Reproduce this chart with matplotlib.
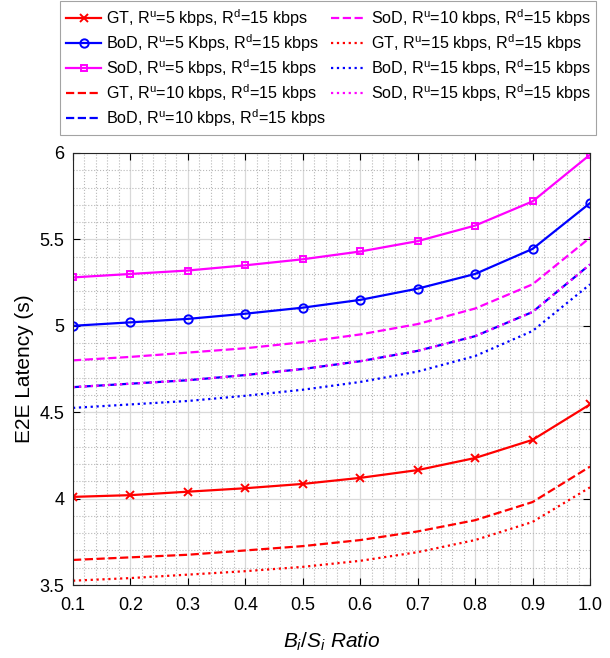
import numpy as np
import matplotlib
matplotlib.use("Agg")
import matplotlib.pyplot as plt
from matplotlib.ticker import MultipleLocator, FuncFormatter

plt.rcParams['font.family'] = ['Liberation Sans', 'DejaVu Sans']
plt.rcParams['mathtext.fontset'] = 'custom'
plt.rcParams['mathtext.rm'] = 'Liberation Sans'
plt.rcParams['mathtext.it'] = 'Liberation Sans:italic'

# Datos
ratio = [0.1, 0.2, 0.3, 0.4, 0.5, 0.6, 0.7, 0.8, 0.9, 1.0]

gt_5 = [4.01, 4.02, 4.04, 4.06, 4.085, 4.12, 4.165, 4.235, 4.34, 4.545]
bod_5 = [5.0, 5.02, 5.04, 5.07, 5.105, 5.15, 5.215, 5.30, 5.445, 5.71]
sod_5 = [5.28, 5.30, 5.32, 5.35, 5.385, 5.43, 5.49, 5.58, 5.72, 5.99]
gt_10 = [3.645, 3.66, 3.675, 3.70, 3.725, 3.76, 3.81, 3.875, 3.98, 4.185]
bod_10 = [4.645, 4.665, 4.685, 4.715, 4.75, 4.795, 4.855, 4.94, 5.08, 5.355]
sod_10 = [4.80, 4.82, 4.845, 4.87, 4.905, 4.95, 5.01, 5.10, 5.24, 5.51]
gt_15 = [3.525, 3.54, 3.56, 3.58, 3.605, 3.64, 3.69, 3.76, 3.865, 4.065]
bod_15 = [4.525, 4.545, 4.565, 4.595, 4.63, 4.675, 4.735, 4.825, 4.97, 5.24]
sod_15 = [4.645, 4.665, 4.685, 4.715, 4.75, 4.795, 4.855, 4.94, 5.08, 5.355]

series = [
    (gt_5, 'GT, R$^{\\mathrm{u}}$=5 kbps, R$^{\\mathrm{d}}$=15 kbps', '#ff0000', '-', 'x'),
    (bod_5, 'BoD, R$^{\\mathrm{u}}$=5 Kbps, R$^{\\mathrm{d}}$=15 kbps', '#0000ff', '-', 'o'),
    (sod_5, 'SoD, R$^{\\mathrm{u}}$=5 kbps, R$^{\\mathrm{d}}$=15 kbps', '#ff00ff', '-', 's'),
    (gt_10, 'GT, R$^{\\mathrm{u}}$=10 kbps, R$^{\\mathrm{d}}$=15 kbps', '#ff0000', '--', None),
    (bod_10, 'BoD, R$^{\\mathrm{u}}$=10 kbps, R$^{\\mathrm{d}}$=15 kbps', '#0000ff', '--', None),
    (sod_10, 'SoD, R$^{\\mathrm{u}}$=10 kbps, R$^{\\mathrm{d}}$=15 kbps', '#ff00ff', '--', None),
    (gt_15, 'GT, R$^{\\mathrm{u}}$=15 kbps, R$^{\\mathrm{d}}$=15 kbps', '#ff0000', ':', None),
    (bod_15, 'BoD, R$^{\\mathrm{u}}$=15 kbps, R$^{\\mathrm{d}}$=15 kbps', '#0000ff', ':', None),
    (sod_15, 'SoD, R$^{\\mathrm{u}}$=15 kbps, R$^{\\mathrm{d}}$=15 kbps', '#ff00ff', ':', None),
]

fig = plt.figure(figsize=(6.10, 6.58), dpi=100)
ax = fig.add_axes([73 / 610, 1 - 585 / 658, (590 - 73) / 610, (585 - 153) / 658])

for vals, lab, col, ls, mk in series:
    ax.plot(ratio, vals, color=col, linestyle=ls, linewidth=1.6, marker=mk,
            markersize=6 if mk != 's' else 5, markerfacecolor='none',
            markeredgewidth=1.4, label=lab)

ax.set_xlim(0.1, 1.0)
ax.set_ylim(3.5, 6.0)
ax.xaxis.set_major_locator(MultipleLocator(0.1))
ax.xaxis.set_minor_locator(MultipleLocator(0.02))
ax.yaxis.set_major_locator(MultipleLocator(0.5))
ax.yaxis.set_minor_locator(MultipleLocator(0.1))
ax.xaxis.set_major_formatter(FuncFormatter(lambda v, p: f"{v:.1f}"))
ax.yaxis.set_major_formatter(FuncFormatter(lambda v, p: f"{v:g}"))

ax.grid(which='major', color='#d9d9d9', linestyle='-', linewidth=0.9)
ax.grid(which='minor', color='#b8b8b8', linestyle=':', linewidth=0.8)
ax.set_axisbelow(True)
ax.tick_params(which='both', direction='in', top=True, right=True, labelsize=13)
ax.tick_params(which='major', length=5)
ax.tick_params(which='minor', length=0)
ax.tick_params(axis='x', pad=9)
ax.tick_params(axis='y', pad=6)
for s in ax.spines.values():
    s.set_color('#262626')
    s.set_linewidth(0.8)

ax.set_xlabel('$B_i/S_i$ Ratio', fontsize=15, style='italic', labelpad=12)
ax.set_ylabel('E2E Latency (s)', fontsize=15, labelpad=4)

leg = fig.legend(loc='upper left', bbox_to_anchor=(60 / 610, 1 - 1 / 658), ncol=2,
                 fontsize=11.6, frameon=True, fancybox=False, edgecolor='#8c8c8c',
                 handlelength=2.2, handletextpad=0.3, columnspacing=0.3,
                 labelspacing=0.21, borderpad=0.37, borderaxespad=0)
leg.get_frame().set_linewidth(0.8)

fig.savefig('out.png', dpi=100)
